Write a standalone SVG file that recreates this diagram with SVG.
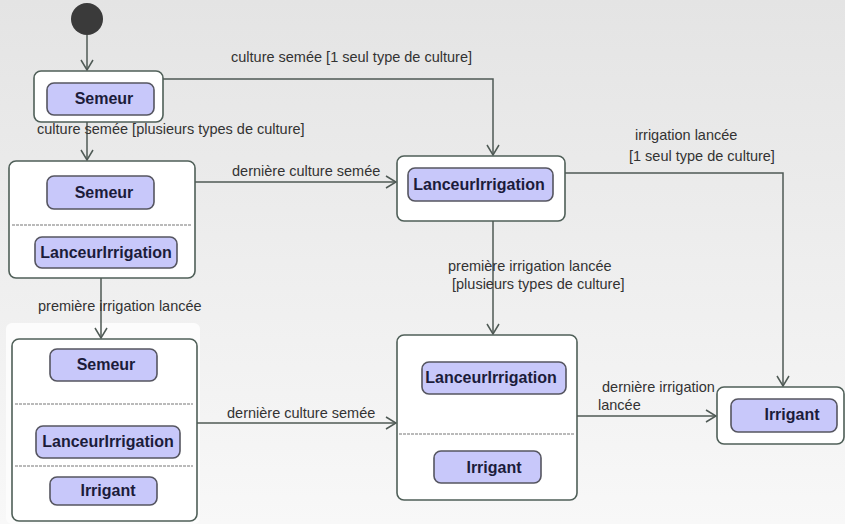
<svg xmlns="http://www.w3.org/2000/svg" width="845" height="524" viewBox="0 0 845 524">
<defs>
<linearGradient id="bg" x1="0" y1="0" x2="0" y2="1">
<stop offset="0" stop-color="#e4e4e4"/>
<stop offset="1" stop-color="#f8f8f8"/>
</linearGradient>
<marker id="arr" viewBox="0 0 12 14" refX="11" refY="7" markerWidth="12" markerHeight="14" markerUnits="userSpaceOnUse" orient="auto">
<path d="M1,1 L11,7 L1,13" fill="none" stroke="#4f5a55" stroke-width="1.5"/>
</marker>
<style>
.outer{fill:#ffffff;stroke:#4f5f58;stroke-width:1.6}
.inner{fill:#c8c8fa;stroke:#555560;stroke-width:1.6}
.name{font-family:"Liberation Sans",Arial,sans-serif;font-weight:bold;font-size:16px;fill:#1c1c3a;text-anchor:middle}
.lbl{font-family:"Liberation Sans",Arial,sans-serif;font-size:14.5px;fill:#333333}
.sep{stroke:#777777;stroke-width:1.2;stroke-dasharray:3 1}
.conn{fill:none;stroke:#4f5a55;stroke-width:1.5}
</style>
</defs>
<rect x="0" y="0" width="845" height="524" fill="url(#bg)"/>
<rect x="6" y="323" width="194" height="201" rx="6" fill="#fcfcfc"/>

<g id="initial">
<circle cx="87" cy="19" r="16" fill="#3a3a3a"/>
</g>

<g id="s1">
<rect class="outer" x="34" y="71" width="129" height="51" rx="7"/>
<rect class="inner" x="47" y="83" width="107" height="32" rx="7"/>
<text class="name" x="104" y="104">Semeur</text>
</g>

<g id="s2">
<rect class="outer" x="9" y="161" width="186" height="117" rx="7"/>
<rect class="inner" x="47" y="176" width="107" height="33" rx="7"/>
<text class="name" x="104" y="198">Semeur</text>
<line class="sep" x1="12" y1="225" x2="191" y2="225"/>
<rect class="inner" x="35" y="237" width="142" height="31" rx="7"/>
<text class="name" x="106" y="258">LanceurIrrigation</text>
</g>

<g id="s3">
<rect class="outer" x="397" y="156" width="168" height="65" rx="7"/>
<rect class="inner" x="408" y="168" width="145" height="33" rx="7"/>
<text class="name" x="479" y="190">LanceurIrrigation</text>
</g>

<g id="s4">
<rect class="outer" x="12" y="339" width="185" height="182" rx="7"/>
<rect class="inner" x="50" y="349" width="107" height="32" rx="7"/>
<text class="name" x="106" y="370">Semeur</text>
<line class="sep" x1="15" y1="404" x2="193" y2="404"/>
<rect class="inner" x="36" y="426" width="144" height="32" rx="7"/>
<text class="name" x="108" y="447">LanceurIrrigation</text>
<line class="sep" x1="15" y1="466" x2="193" y2="466"/>
<rect class="inner" x="50" y="477" width="107" height="28" rx="7"/>
<text class="name" x="108" y="496">Irrigant</text>
</g>

<g id="s5">
<rect class="outer" x="397" y="335" width="180" height="165" rx="7"/>
<rect class="inner" x="422" y="362" width="144" height="32" rx="7"/>
<text class="name" x="491" y="383">LanceurIrrigation</text>
<line class="sep" x1="399" y1="434" x2="575" y2="434"/>
<rect class="inner" x="434" y="451" width="107" height="32" rx="7"/>
<text class="name" x="494" y="473">Irrigant</text>
</g>

<g id="s6">
<rect class="outer" x="717" y="387" width="127" height="57" rx="7"/>
<rect class="inner" x="731" y="399" width="106" height="33" rx="7"/>
<text class="name" x="792" y="420">Irrigant</text>
</g>

<g id="connectors">
<path class="conn" d="M87,35 L87,70" marker-end="url(#arr)"/>
<path class="conn" d="M163,79 L493,79 L493,155" marker-end="url(#arr)"/>
<path class="conn" d="M87,122 L87,160" marker-end="url(#arr)"/>
<path class="conn" d="M195,182 L396,182" marker-end="url(#arr)"/>
<path class="conn" d="M565,173 L783,173 L783,386" marker-end="url(#arr)"/>
<path class="conn" d="M493,221 L493,334" marker-end="url(#arr)"/>
<path class="conn" d="M101,278 L101,338" marker-end="url(#arr)"/>
<path class="conn" d="M197,423 L396,423" marker-end="url(#arr)"/>
<path class="conn" d="M577,416 L716,416" marker-end="url(#arr)"/>
<text class="lbl" x="231" y="62">culture semée [1 seul type de culture]</text>
<text class="lbl" x="37" y="134">culture semée [plusieurs types de culture]</text>
<text class="lbl" x="232" y="176">dernière culture semée</text>
<text class="lbl" x="635" y="140">irrigation lancée</text>
<text class="lbl" x="629" y="161">[1 seul type de culture]</text>
<text class="lbl" x="448" y="271">première irrigation lancée</text>
<text class="lbl" x="452" y="289">[plusieurs types de culture]</text>
<text class="lbl" x="38" y="311">première irrigation lancée</text>
<text class="lbl" x="227" y="418">dernière culture semée</text>
<text class="lbl" x="602" y="392">dernière irrigation</text>
<text class="lbl" x="598" y="410">lancée</text>
</g>
</svg>
